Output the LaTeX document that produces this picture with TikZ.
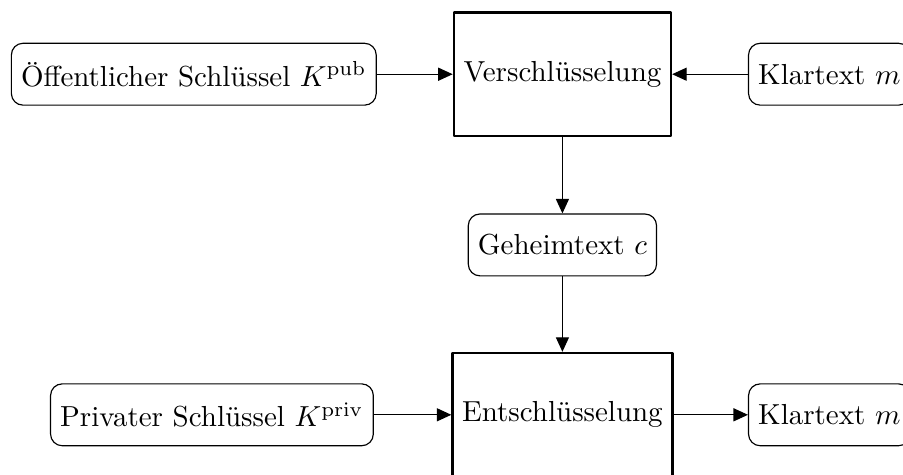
\documentclass[tikz,border=0pt]{standalone}
\usetikzlibrary{arrows.meta}
\begin{document}
\begin{tikzpicture}[>={Triangle[length=5pt,width=4.5pt]}, line join=round,
		procbox/.style={draw, thick, minimum height=1.5cm},
		databox/.style={draw, rounded corners, minimum height=0.75cm}]
		\useasboundingbox (0,0) rectangle (10.95,-5.75);
		% top row
		\node[databox] (pub) at (2.35,-0.9) {Öffentlicher Schlüssel $K^{\mathrm{pub}}$};
		\node[procbox] (enc) at (6.82,-0.9) {Verschlüsselung};
		\node[databox,anchor=west] (plain) at (9.07,-0.9) {Klartext $m$};
		% middle
		\node[databox] (cipher) at (6.82,-2.97) {Geheimtext $c$};
		% bottom row
		\node[procbox] (dec) at (6.82,-5.03) {Entschlüsselung};
		\node[databox] (priv) at (2.57,-5.03) {Privater Schlüssel $K^{\mathrm{priv}}$};
		\node[databox,anchor=west] (plainout) at (9.07,-5.03) {Klartext $m$};
		\draw[->] (pub) -- (enc);
		\draw[->] (plain) -- (enc);
		\draw[->] (enc) -- (cipher);
		\draw[->] (cipher) -- (dec);
		\draw[->] (priv) -- (dec);
		\draw[->] (dec) -- (plainout);
	\end{tikzpicture}
\end{document}
